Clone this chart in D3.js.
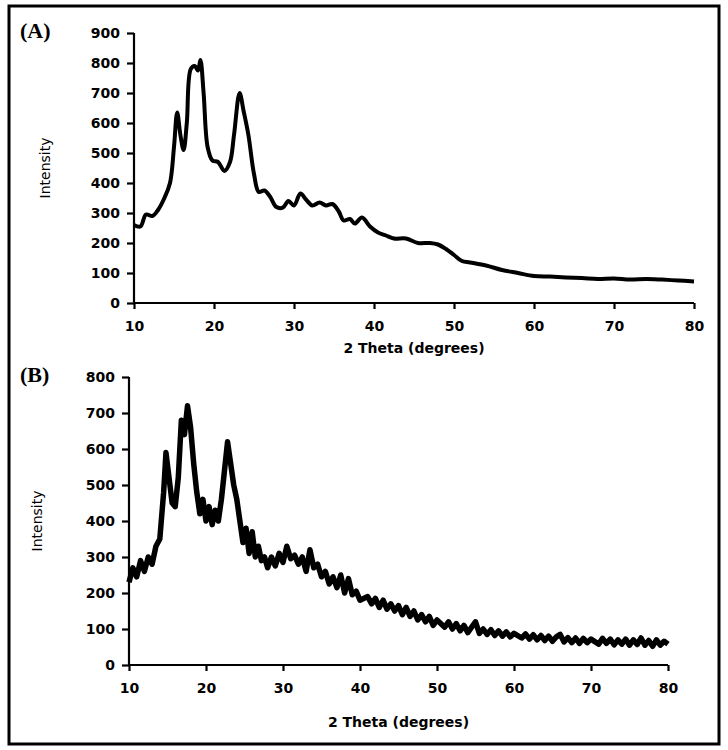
<!DOCTYPE html><html><head><meta charset="utf-8"><script src="https://cdn.jsdelivr.net/npm/d3@7"></script>
<style>body{margin:0;background:#fff}</style></head><body><svg id="c" width="728" height="750" font-family="'DejaVu Sans',sans-serif"></svg>
<script>
const aX=[10,10.8,11.5,12.3,13,13.8,14.5,15,15.4,15.8,16.2,16.6,17.1,17.6,18,18.3,18.7,19.2,19.8,20.5,21.3,22,22.5,23.2,23.7,24.3,25,25.6,26.3,27,27.8,28.6,29.3,30,30.8,31.5,32.3,33.2,34,34.8,35.6,36.2,37,37.6,38.5,39.5,40.5,41.5,42.5,44,45.5,47,48,49,50,51,52,54,56,58,60,62,64,66,68,70,72,74,76,78,80];
const aY=[260,255,295,290,310,350,400,520,635,560,510,600,780,790,775,810,700,520,475,470,440,470,560,700,640,560,430,370,375,355,320,318,340,325,365,345,325,335,325,330,305,275,280,265,285,255,235,225,215,215,200,200,195,180,160,140,135,125,110,100,90,88,85,83,80,82,78,80,78,75,72];
const bX=[10,10.5,11,11.5,12,12.5,13,13.5,14,14.5,14.8,15.2,15.6,16,16.4,16.8,17.2,17.6,18,18.4,18.8,19.2,19.6,20,20.4,20.8,21.2,21.6,22,22.4,22.8,23.2,23.6,24,24.4,24.8,25.2,25.6,26,26.4,26.8,27.2,27.6,28,28.5,29,29.5,30,30.5,31,31.5,32,32.5,33,33.5,34,34.5,35,35.5,36,36.5,37,37.5,38,38.5,39,39.5,40,41,41.5,42,42.5,43,43.5,44,44.5,45,45.5,46,46.5,47,47.5,48,48.5,49,49.5,50,51,51.5,52,52.5,53,53.5,54,54.5,55,55.5,56,56.5,57,57.5,58,58.5,59,59.5,60,61,61.5,62,62.5,63,63.5,64,64.5,65,65.5,66,66.5,67,67.5,68,68.5,69,69.5,70,71,71.5,72,72.5,73,73.5,74,74.5,75,75.5,76,76.5,77,77.5,78,78.5,79,79.5,80];
const bY=[230,270,245,290,260,300,280,330,350,480,590,520,450,440,520,680,640,720,660,560,480,420,460,400,440,390,430,400,460,540,620,560,500,460,400,340,380,310,370,300,330,290,300,270,300,275,310,285,330,295,305,280,300,260,320,270,280,245,260,225,245,215,250,200,240,195,205,180,190,170,185,160,180,155,170,150,165,140,160,135,150,125,140,120,135,110,125,105,120,100,115,95,110,90,105,120,88,100,85,98,82,95,80,92,78,88,75,86,72,84,70,82,68,80,66,78,85,64,76,62,75,60,74,62,72,58,74,60,72,56,70,58,72,55,70,57,75,55,68,52,70,55,66,58];
const aTicks=d3.range(0,901,100), bTicks=d3.range(0,801,100), xTicks=d3.range(10,81,10);
const svg=d3.select("#c");
svg.append("rect").attr("x",9).attr("y",6).attr("width",710).attr("height",738).attr("fill","none").attr("stroke","#000").attr("stroke-width",3);
function panel(o){
  const x=d3.scaleLinear().domain([10,80]).range([o.l,o.r]);
  const y=d3.scaleLinear().domain([0,o.max]).range([o.b,o.t]);
  const g=svg.append("g");
  const ya=g.append("g").attr("transform",`translate(${o.l},0)`).call(d3.axisLeft(y).tickValues(o.yt).tickSize(7).tickPadding(7));
  const xa=g.append("g").attr("transform",`translate(0,${o.b})`).call(d3.axisBottom(x).tickValues(xTicks).tickSize(6).tickPadding(12));
  [ya,xa].forEach(a=>{a.attr("font-family",null);a.selectAll("path,line").attr("stroke","#000").attr("stroke-width",2.2);a.select(".domain").remove();a.selectAll("text").attr("font-size",14).attr("font-weight","bold").attr("fill","#000");});
  g.append("line").attr("x1",o.l).attr("x2",o.l).attr("y1",o.t).attr("y2",o.b).attr("stroke","#000").attr("stroke-width",2.2);
  g.append("line").attr("x1",o.l).attr("x2",o.r).attr("y1",o.b).attr("y2",o.b).attr("stroke","#000").attr("stroke-width",2.2);
  g.append("path").datum(o.xs.map((v,i)=>[v,o.ys[i]])).attr("fill","none").attr("stroke","#000").attr("stroke-width",o.sw).attr("stroke-linejoin","round")
    .attr("d",d3.line().x(d=>x(d[0])).y(d=>y(d[1])).curve(o.curve));
  g.append("text").attr("transform",`translate(${o.il},${(o.t+o.b)/2}) rotate(-90)`).attr("text-anchor","middle").attr("font-size",14).text("Intensity");
  g.append("text").attr("x",(o.l+o.r)/2).attr("y",o.xt).attr("text-anchor","middle").attr("font-size",14).attr("font-weight","bold").text("2 Theta (degrees)");
  g.append("text").attr("x",20).attr("y",o.lt).attr("font-family","'Liberation Serif',serif").attr("font-size",22).attr("font-weight","bold").text(o.lab);
}
panel({l:134,r:694,t:33,b:303,max:900,yt:aTicks,xs:aX,ys:aY,sw:4,curve:d3.curveCatmullRom,il:50,xt:353,lt:38,lab:"(A)"});
panel({l:129,r:668,t:377,b:665,max:800,yt:bTicks,xs:bX,ys:bY,sw:5.5,curve:d3.curveLinear,il:42,xt:727,lt:382,lab:"(B)"});
</script></body></html>
